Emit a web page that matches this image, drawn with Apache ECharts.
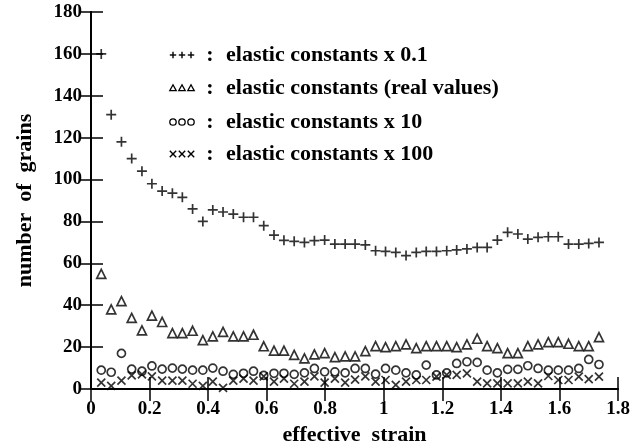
<!DOCTYPE html>
<html>
<head>
<meta charset="utf-8">
<script src="https://cdn.jsdelivr.net/npm/echarts@6/dist/echarts.min.js"></script>
<style>
html,body{margin:0;padding:0;background:#fff;}
#c{width:634px;height:443px;}
</style>
</head>
<body>
<div id="c"></div>
<script>
// effective strain values (x)
var strain = [0.035,0.069,0.104,0.139,0.174,0.208,0.243,0.278,0.312,0.347,
  0.382,0.416,0.451,0.486,0.521,0.555,0.590,0.625,0.659,0.694,
  0.729,0.763,0.798,0.833,0.868,0.902,0.937,0.972,1.006,1.041,
  1.076,1.111,1.145,1.180,1.215,1.249,1.284,1.319,1.353,1.388,
  1.423,1.458,1.492,1.527,1.562,1.596,1.631,1.666,1.700,1.735];
// number of grains, elastic constants x 0.1
var grainsX01 = [160,131,118,110,104,98,94.5,93.5,91.5,86,
  80,85.5,84.5,83.5,82,82,78,73.5,71,70.5,
  70,70.8,71.1,69.2,69.2,69.2,68.8,66,65.7,65.2,
  63.7,65.2,65.7,65.7,66,66.4,66.9,67.6,67.6,71.1,
  74.8,74,71.6,72.4,72.7,72.7,69.2,69.2,69.5,70];
// elastic constants (real values)
var grainsReal = [55,38,42,34,28,35,32,26.7,26.7,27.8,
  23.3,25.1,27.3,25.1,25.1,25.9,20.4,18.3,18.3,16.3,
  14.6,16.5,17.1,15.2,15.6,15.6,18.1,20.5,20,20.5,
  21.3,19.5,20.5,20.5,20.5,20,21.3,24,20.5,19.5,
  17.1,17.1,20.5,21.3,22.4,22.4,21.6,20.5,20.5,24.8];
// elastic constants x 10
var grainsX10 = [9,8,17,9.5,8.5,11,9.5,10,9.5,9,
  9,10,8.5,7,7.5,8.5,6.5,7.5,7.5,7,
  7.7,9.8,8.2,8.2,7.7,9.8,9.8,7.1,9.8,9,
  7.7,6.7,11.4,6.7,7.7,12.2,13,12.7,9,7.7,
  9.4,9.4,11.1,9.8,9,9,9,9.8,14.1,11.7];
// elastic constants x 100
var grainsX100 = [3,1.5,4,6.5,7,6,4,4,4,2.5,
  1.5,3.5,0.5,4,5,4,6,3.5,5,2.5,
  3.5,6,3,5,3,4.5,6,3.5,4.3,2,
  3.5,4.3,4.3,5.9,6.7,6.7,7.5,3.5,2.7,2.7,
  2.7,2.7,3.5,2.7,6.2,4.3,4.3,5.9,4.7,5.9];

var legendLabels = ['elastic constants x 0.1','elastic constants (real values)','elastic constants x 10','elastic constants x 100'];
var xTitle = 'effective  strain';
var yTitle = 'number  of  grains';

var FONT = '"Liberation Serif","Times New Roman",serif';
function pair(ys){ return ys.map(function(v,i){ return [strain[i], v]; }); }

var PLUS = 'path://M0,5L10,5M5,0L5,10';
var CROSS = 'path://M0,0L10,10M10,0L0,10';

function mk(name, data, symbol, size, bw){
  return {type:'scatter', name:name, data:pair(data), symbol:symbol, symbolSize:size,
    itemStyle:{color:'rgba(0,0,0,0)', borderColor:'#000', borderWidth:bw},
    emphasis:{disabled:true}, silent:true, z:3};
}

// legend graphics
var rowsY = [55, 88, 122, 154];
var symX = [173, 182, 191];
var g = [];
var kinds = ['plus','tri','circ','cross'];
rowsY.forEach(function(y, r){
  symX.forEach(function(x){
    var k = kinds[r], s = 3.2;
    if (k==='plus'){
      g.push({type:'line', shape:{x1:x-s,y1:y,x2:x+s,y2:y}, style:{stroke:'#000',lineWidth:1.4}});
      g.push({type:'line', shape:{x1:x,y1:y-s,x2:x,y2:y+s}, style:{stroke:'#000',lineWidth:1.4}});
    } else if (k==='cross'){
      g.push({type:'line', shape:{x1:x-s,y1:y-s,x2:x+s,y2:y+s}, style:{stroke:'#000',lineWidth:1.4}});
      g.push({type:'line', shape:{x1:x+s,y1:y-s,x2:x-s,y2:y+s}, style:{stroke:'#000',lineWidth:1.4}});
    } else if (k==='tri'){
      g.push({type:'polygon', shape:{points:[[x,y-s],[x+s,y+s*0.8],[x-s,y+s*0.8]]}, style:{fill:'none',stroke:'#000',lineWidth:1.3}});
    } else {
      g.push({type:'circle', shape:{cx:x,cy:y,r:s}, style:{fill:'none',stroke:'#000',lineWidth:1.3}});
    }
  });
  g.push({type:'text', x:210, y:y, style:{text:':', font:'bold 22px '+FONT, fill:'#000', align:'center', verticalAlign:'middle'}});
  g.push({type:'text', x:226, y:y, style:{text:legendLabels[r], font:'bold 22px '+FONT, fill:'#000', align:'left', verticalAlign:'middle'}});
});

var chart = echarts.init(document.getElementById('c'), null, {renderer:'canvas'});
var axLine = {show:true, lineStyle:{color:'#000', width:2}};
var tick = {show:true, inside:true, length:12, lineStyle:{color:'#000', width:1.5}};
chart.setOption({
  animation:false,
  backgroundColor:'#fff',
  grid:{left:91, right:16, top:12, bottom:54, show:false, containLabel:false, outerBoundsMode:'none'},
  xAxis:[{
    type:'value', min:0, max:1.8, interval:0.2, position:'bottom',
    axisLine:axLine, axisTick:tick, splitLine:{show:false},
    axisLabel:{color:'#000', fontFamily:FONT, fontSize:19, fontWeight:'bold', margin:11},
    name:xTitle, nameLocation:'middle', nameGap:30,
    nameTextStyle:{color:'#000', fontFamily:FONT, fontSize:22, fontWeight:'bold'}
  },{
    type:'value', min:0, max:1.8, interval:0.2, position:'top',
    axisLine:axLine, axisTick:tick, axisLabel:{show:false}, splitLine:{show:false}
  }],
  yAxis:[{
    type:'value', min:0, max:180, interval:20, position:'left',
    axisLine:axLine, axisTick:tick, splitLine:{show:false},
    axisLabel:{color:'#000', fontFamily:FONT, fontSize:19, fontWeight:'bold', margin:9},
    name:yTitle, nameLocation:'middle', nameGap:55, nameRotate:90,
    nameTextStyle:{color:'#000', fontFamily:FONT, fontSize:22, fontWeight:'bold'}
  },{
    type:'value', min:0, max:180, interval:20, position:'right',
    axisLine:axLine, axisTick:tick, axisLabel:{show:false}, splitLine:{show:false}
  }],
  series:[
    mk(legendLabels[0], grainsX01, PLUS, 10, 1.7),
    mk(legendLabels[1], grainsReal, 'triangle', 9, 1.7),
    mk(legendLabels[2], grainsX10, 'circle', 8, 1.7),
    mk(legendLabels[3], grainsX100, CROSS, 8, 1.7)
  ],
  graphic:g
});
</script>
</body>
</html>
